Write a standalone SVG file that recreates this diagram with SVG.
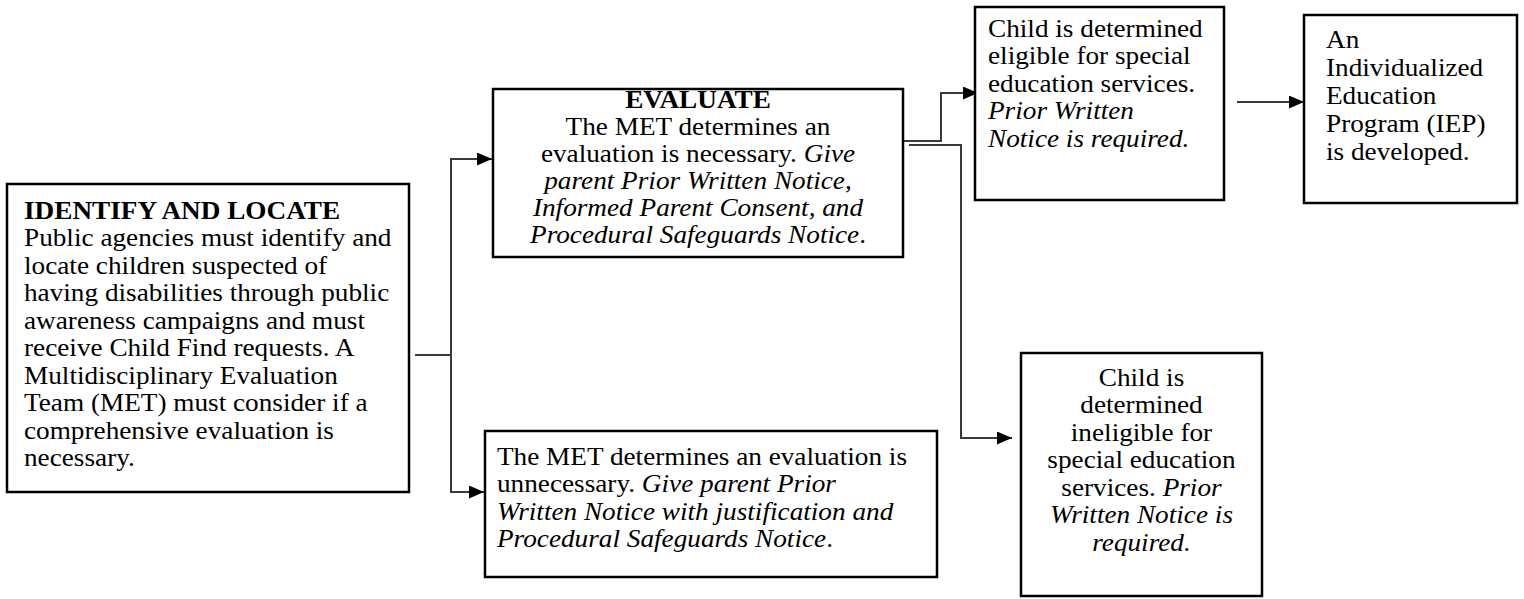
<svg xmlns="http://www.w3.org/2000/svg" width="1524" height="599" viewBox="0 0 1524 599">
<defs>
<style>
.box{fill:#fff;stroke:#000;stroke-width:2.5}
.t{font-family:"Liberation Serif","Times New Roman",serif;font-size:25px;fill:#000}
.b{font-weight:bold}
.i{font-style:italic}
.c{text-anchor:middle}
.ln{fill:none;stroke:#3a3a3a;stroke-width:2}
</style>
<marker id="ah" markerUnits="userSpaceOnUse" markerWidth="15" markerHeight="13" refX="15" refY="6.5" orient="auto">
<path d="M0,0 L15,6.5 L0,13 z" fill="#000"/>
</marker>
</defs>
<rect width="1524" height="599" fill="#fff"/>
<g id="connectors">
<path class="ln" d="M415,355 H451"/>
<path class="ln" d="M451,355 V159 H492" marker-end="url(#ah)"/>
<path class="ln" d="M451,355 V492 H484" marker-end="url(#ah)"/>
<path class="ln" d="M899,141 H941 V93 H978" marker-end="url(#ah)"/>
<path class="ln" d="M909,145 H961 V438 H1012" marker-end="url(#ah)"/>
<path class="ln" d="M1237,102 H1304" marker-end="url(#ah)"/>
</g>
<g id="identify">
<rect class="box" x="7" y="184" width="402" height="308"/>
<g transform="scale(1.09,1)">
<text class="t b" x="22.02" y="219">IDENTIFY AND LOCATE</text>
<text class="t" x="22.02" y="246.5">Public agencies must identify and</text>
<text class="t" x="22.02" y="274">locate children suspected of</text>
<text class="t" x="22.02" y="301.5">having disabilities through public</text>
<text class="t" x="22.02" y="329">awareness campaigns and must</text>
<text class="t" x="22.02" y="356.5">receive Child Find requests. A</text>
<text class="t" x="22.02" y="384">Multidisciplinary Evaluation</text>
<text class="t" x="22.02" y="411.5">Team (MET) must consider if a</text>
<text class="t" x="22.02" y="439">comprehensive evaluation is</text>
<text class="t" x="22.02" y="466.5">necessary.</text>
</g>
</g>
<g id="evaluate">
<rect class="box" x="493" y="89" width="410" height="168"/>
<g transform="scale(1.09,1)">
<text class="t c b" x="640.37" y="108">EVALUATE</text>
<text class="t c" x="640.37" y="135">The MET determines an</text>
<text class="t c" x="640.37" y="162">evaluation is necessary. <tspan class="i">Give</tspan></text>
<text class="t c i" x="640.37" y="189">parent Prior Written Notice,</text>
<text class="t c i" x="640.37" y="216">Informed Parent Consent, and</text>
<text class="t c" x="640.37" y="243"><tspan class="i">Procedural Safeguards Notice</tspan>.</text>
</g>
</g>
<g id="eligible">
<rect class="box" x="975" y="7" width="249" height="193"/>
<g transform="scale(1.09,1)">
<text class="t" x="906.42" y="37">Child is determined</text>
<text class="t" x="906.42" y="64.5">eligible for special</text>
<text class="t" x="906.42" y="92">education services.</text>
<text class="t i" x="906.42" y="119.5">Prior Written</text>
<text class="t i" x="906.42" y="147">Notice is required.</text>
</g>
</g>
<g id="iep">
<rect class="box" x="1304" y="15" width="213" height="188"/>
<g transform="scale(1.09,1)">
<text class="t" x="1216.51" y="48">An</text>
<text class="t" x="1216.51" y="76">Individualized</text>
<text class="t" x="1216.51" y="104">Education</text>
<text class="t" x="1216.51" y="132">Program (IEP)</text>
<text class="t" x="1216.51" y="160">is developed.</text>
</g>
</g>
<g id="unnecessary">
<rect class="box" x="485" y="431" width="452" height="146"/>
<g transform="scale(1.09,1)">
<text class="t" x="455.96" y="465">The MET determines an evaluation is</text>
<text class="t" x="455.96" y="492.5">unnecessary. <tspan class="i">Give parent Prior</tspan></text>
<text class="t i" x="455.96" y="520">Written Notice with justification and</text>
<text class="t" x="455.96" y="547.5"><tspan class="i">Procedural Safeguards Notice</tspan>.</text>
</g>
</g>
<g id="ineligible">
<rect class="box" x="1021" y="353" width="241" height="243"/>
<g transform="scale(1.09,1)">
<text class="t c" x="1047.25" y="386">Child is</text>
<text class="t c" x="1047.25" y="413.5">determined</text>
<text class="t c" x="1047.25" y="441">ineligible for</text>
<text class="t c" x="1047.25" y="468.5">special education</text>
<text class="t c" x="1047.25" y="496">services. <tspan class="i">Prior</tspan></text>
<text class="t c i" x="1047.25" y="523.5">Written Notice is</text>
<text class="t c i" x="1047.25" y="551">required.</text>
</g>
</g>
</svg>
